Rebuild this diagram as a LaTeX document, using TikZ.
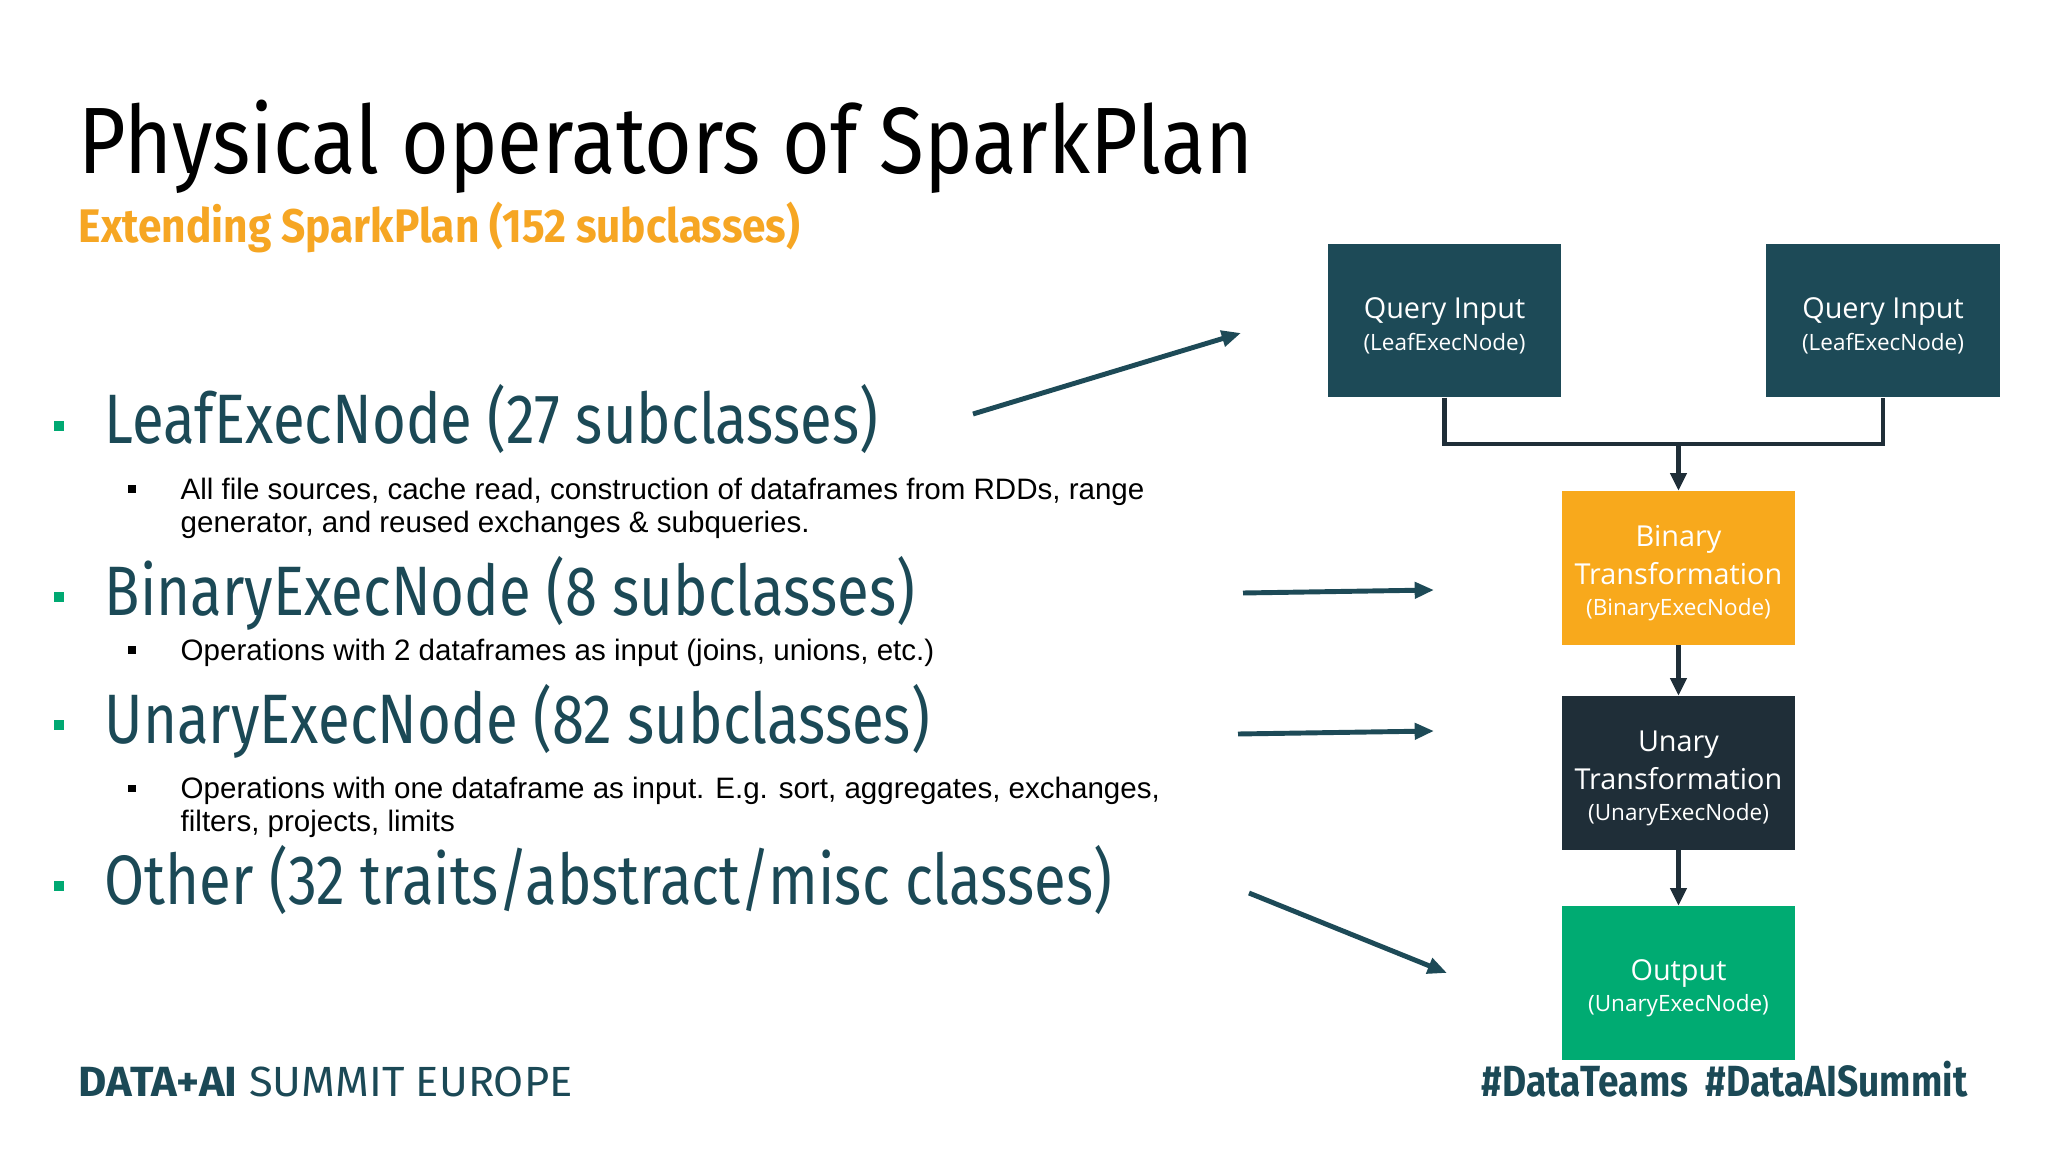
\documentclass[tikz,border=0pt]{standalone}
\usepackage{fontspec}
\setmainfont{Liberation Sans}
\newfontfamily\headfont[FakeStretch=0.83]{Fira Sans}
\newfontfamily\titlefont[FakeStretch=0.87]{Fira Sans}
\newfontfamily\subtfont[FakeStretch=0.9]{Fira Sans}
\newfontfamily\footfont[FakeStretch=1.03]{Fira Sans}
\newfontfamily\tagfont[FakeStretch=0.85]{Fira Sans}
\newfontfamily\boxfont{Open Sans}
\usepackage{xcolor}
\usetikzlibrary{arrows.meta,positioning}
\definecolor{qteal}{HTML}{1D4A57}
\definecolor{borange}{HTML}{F8A91C}
\definecolor{udark}{HTML}{1F2E38}
\definecolor{ogreen}{HTML}{00AB72}
\definecolor{headteal}{HTML}{1B4956}
\definecolor{subor}{HTML}{F6A623}
\definecolor{bulgreen}{HTML}{00A972}
\newcommand{\boxsub}[1]{\\[-1.8pt]{\fontsize{6.4}{8}\selectfont #1}}
\newcommand{\boxtop}{\rule{0pt}{9pt}}
\tikzset{
  qbox/.style={rectangle,fill=qteal,text=white,minimum width=2.33cm,minimum height=1.53cm,inner sep=1pt,align=center,font=\boxfont\fontsize{8.2}{10.8}\selectfont},
  bbox/.style={qbox,fill=borange},
  ubox/.style={qbox,fill=udark},
  obox/.style={qbox,fill=ogreen},
  head/.style={anchor=base west,inner sep=0pt,text=headteal,font=\headfont\fontsize{19.9}{22}\selectfont},
  subtxt/.style={anchor=north west,inner sep=0pt,align=left,font=\fontsize{8.4}{9.4}\selectfont},
  gbul/.style={rectangle,fill=bulgreen,minimum size=1mm,inner sep=0pt},
  kbul/.style={rectangle,fill=black,minimum size=0.7mm,inner sep=0pt},
  pointer/.style={line width=1.4pt,qteal,-{Triangle[length=5.5pt,width=4.5pt]}},
  flow/.style={line width=1.4pt,udark},
  flowarr/.style={flow,-{Triangle[length=5pt,width=4.5pt]}},
  foot/.style={anchor=base west,inner sep=0pt,text=headteal,font=\footfont\fontsize{12}{14}\selectfont}
}
\begin{document}
\begin{tikzpicture}[x=0.01cm,y=-0.01cm]
  \fill[white] (0,0) rectangle (2048,1152);
  \useasboundingbox (0,0) rectangle (2048,1152);

  % title
  \node[anchor=base west,inner sep=0pt,font=\titlefont\fontsize{26.8}{30}\selectfont] (title) at (78,174) {Physical operators of SparkPlan};
  \node[anchor=base west,inner sep=0pt,text=subor,font=\subtfont\bfseries\fontsize{13.4}{15}\selectfont] (subtitle) at (78,243) {Extending SparkPlan (152 subclasses)};

  % bullet list
  \node[gbul] (b1) at (59,426) {};
  \node[head] (leaf) at (104,444) {LeafExecNode (27 subclasses)};
  \node[kbul] (s1) at (132,489) {};
  \node[subtxt] (leaftxt) at (180,477) {All file sources, cache read, construction of dataframes from RDDs, range\\generator, and reused exchanges \& subqueries.};

  \node[gbul] (b2) at (59,597) {};
  \node[head] (binary) at (104,615) {BinaryExecNode (8 subclasses)};
  \node[kbul] (s2) at (132,650) {};
  \node[subtxt] (bintxt) at (180,638) {Operations with 2 dataframes as input (joins, unions, etc.)};

  \node[gbul] (b3) at (59,725) {};
  \node[head] (unary) at (104,743) {UnaryExecNode (82 subclasses)};
  \node[kbul] (s3) at (132,788) {};
  \node[subtxt] (unatxt) at (180,776) {Operations with one dataframe as input. E.g. sort, aggregates, exchanges,\\filters, projects, limits};

  \node[gbul] (b4) at (59,886) {};
  \node[head] (other) at (104,904) {Other (32 traits/abstract/misc classes)};

  % plan tree
  \node[qbox] (qinA) at (1444.5,320.5) {\boxtop Query Input\boxsub{(LeafExecNode)}};
  \node[qbox] (qinB) at (1883,320.5) {\boxtop Query Input\boxsub{(LeafExecNode)}};
  \node[bbox] (binT) at (1678.5,568) {\boxtop Binary\\Transformation\boxsub{(BinaryExecNode)}};
  \node[ubox] (unaT) at (1678.5,773) {\boxtop Unary\\Transformation\boxsub{(UnaryExecNode)}};
  \node[obox] (outN) at (1678.5,983) {\boxtop Output\boxsub{(UnaryExecNode)}};
  \coordinate (join) at (1678.5,444);
  \draw[flow] (qinA.south) |- (join) -| (qinB.south);
  \draw[flowarr] (join) -- (binT.north);
  \draw[flowarr] (binT) -- (unaT);
  \draw[flowarr] (unaT) -- (outN);

  % pointers from list to tree
  \coordinate (pa1) at (973,414);  \coordinate (pa2) at (1241,333);
  \coordinate (pb1) at (1243,593); \coordinate (pb2) at (1434,590);
  \coordinate (pc1) at (1238,734); \coordinate (pc2) at (1434,731);
  \coordinate (pd1) at (1249,893); \coordinate (pd2) at (1447,973);
  \draw[pointer] (pa1) -- (pa2);
  \draw[pointer] (pb1) -- (pb2);
  \draw[pointer] (pc1) -- (pc2);
  \draw[pointer] (pd1) -- (pd2);

  % footer
  \node[foot] (event) at (78,1096) {\textbf{DATA+AI} SUMMIT EUROPE};
  \node[foot,anchor=base east,font=\tagfont\bfseries\fontsize{12.4}{14}\selectfont] (tags) at (1968,1096) {\#DataTeams\ \ \#DataAISummit};
\end{tikzpicture}
\end{document}
